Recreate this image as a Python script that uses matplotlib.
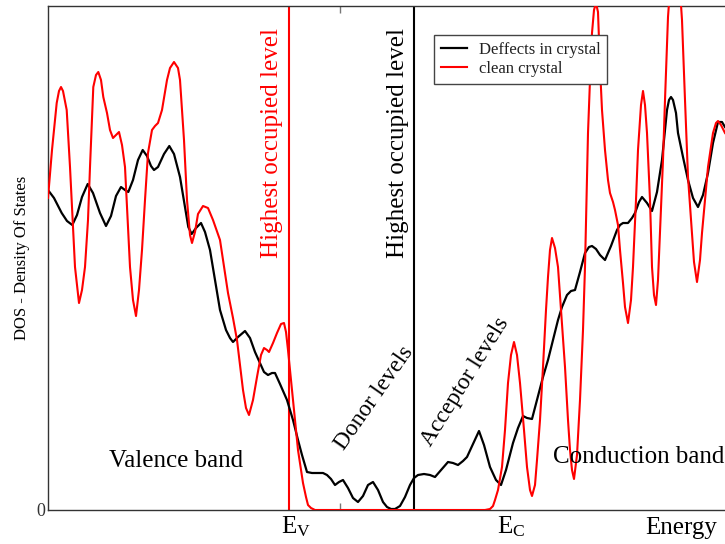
import matplotlib
matplotlib.use("Agg")
import matplotlib.pyplot as plt

plt.rcParams['font.family'] = ['Liberation Serif', 'DejaVu Serif']
plt.rcParams['mathtext.fontset'] = 'custom'
plt.rcParams['mathtext.rm'] = 'Liberation Serif'
plt.rcParams['mathtext.it'] = 'Liberation Serif:italic'

# ---- data (energy in arbitrary units, DOS in arbitrary units) ----
defect_energy = [0, 6, 13.7, 19, 24.3, 29, 34, 39.7, 45, 52, 58, 63, 68, 73, 77, 80.3, 85, 90, 94.7, 99,
                 103, 106, 110, 116, 121.3, 126, 132, 137, 140.3, 143.7, 148, 153, 157, 162, 167, 172, 178, 182, 185, 190,
                 197, 202, 207, 212, 216, 220, 224, 227, 232, 239, 245, 250, 254, 259, 264, 270, 275, 279, 283, 287,
                 291, 295, 300, 305, 310, 315, 320, 325, 330, 335, 339, 343, 347, 352, 357, 362, 366, 370, 376, 382,
                 387, 393, 400, 405, 410, 415, 419, 425, 431, 436, 442, 448, 453, 458, 465, 470, 475, 479, 484, 489,
                 495, 500, 505, 510, 514, 519, 523, 527, 532, 537, 541, 544, 548, 552, 557, 563, 569, 572, 575, 580,
                 584, 587, 591, 594, 599, 604, 609, 614, 619, 621, 623, 625, 628, 630, 635, 640, 645, 650, 655, 660,
                 665, 670, 674, 677]
defect_dos = [320, 312, 297, 289, 285, 295, 313, 326, 317, 297, 284, 294, 314, 323, 320, 318, 330, 350, 360, 354,
              344, 340, 343, 356, 364, 356, 333, 303, 283, 276, 282, 287, 278, 260, 230, 200, 180, 172, 168, 173,
              179, 172, 158, 147, 138, 135, 137, 137, 126, 110, 90, 70, 55, 38, 37, 37, 37, 35, 31, 25,
              28, 30, 22, 12, 8, 14, 25, 28, 20, 8, 3, 1, 1, 4, 13, 25, 32, 35, 36, 35,
              33, 40, 48, 47, 45, 49, 53, 66, 79, 65, 43, 30, 25, 40, 67, 82, 94, 92, 91, 110,
              133, 150, 170, 190, 203, 215, 219, 220, 238, 257, 263, 264, 261, 255, 250, 264, 280, 285, 287, 287,
              292, 297, 308, 313, 307, 299, 318, 350, 400, 410, 413, 410, 397, 377, 353, 330, 312, 303, 315, 337,
              367, 388, 388, 383]

clean_energy = [0, 4, 8.7, 11, 13, 15, 18.7, 22, 27, 31, 34, 37, 40, 42, 45.3, 48, 50.3, 53, 55.3, 59,
                62, 65, 68, 71, 74, 77, 82, 85, 88, 91, 94, 97, 100, 104, 107, 110, 114, 119, 122, 126,
                130, 132, 136, 139, 142, 144, 147, 150, 155, 160, 165, 172, 180, 185, 189, 195, 198, 201, 205, 209,
                213, 216, 219, 221, 225, 229, 233, 236, 238, 240, 242, 245, 248, 250, 253, 255, 258, 260, 263, 267,
                272,
                437, 442, 445, 447, 450, 454, 457, 460, 463, 466, 469, 472, 476, 479, 482, 484, 487, 489, 492,
                495, 498, 500, 502, 504, 507, 510, 513, 517, 520, 522, 524, 526, 529, 532, 535, 537, 540, 542, 544,
                546, 548, 550, 552, 554, 557, 560, 562, 565, 567, 570, 572, 575, 577, 580, 583, 585, 588, 590, 593,
                595, 597, 599, 602, 604, 606, 608, 610, 612, 615, 617, 620, 623, 627, 631, 634, 637, 640, 644, 646,
                649, 652, 654, 657, 660, 665, 668, 670, 673, 677]
clean_dos = [312, 360, 407, 419, 423, 419, 400, 343, 243, 207, 220, 243, 290, 343, 423, 435, 438, 430, 413, 397,
             380, 372, 375, 378, 365, 343, 243, 210, 194, 220, 260, 310, 357, 380, 384, 387, 400, 430, 442, 448,
             442, 430, 370, 310, 275, 267, 278, 296, 304, 302, 290, 270, 217, 192, 170, 120, 102, 95, 110, 133,
             155, 162, 160, 158, 167, 177, 186, 187, 178, 160, 140, 110, 80, 60, 40, 27, 13, 5, 2, 0,
             0,
             0, 1, 4, 10, 20, 43, 80, 127, 155, 168, 155, 127, 80, 43, 20, 14, 25, 50, 90, 143,
             200, 233, 260, 272, 262, 243, 200, 143, 90, 60, 40, 31, 55, 110, 180, 243, 377, 430, 477, 500,
             507, 498, 443, 400, 360, 330, 317, 308, 300, 285, 260, 227, 203, 187, 210, 243, 310, 360, 405, 419,
             405, 377, 310, 243, 215, 205, 230, 277, 350, 410, 493, 535, 550, 535, 490, 410, 333, 277, 248, 228,
             250, 277, 310, 343, 377, 387, 389, 385, 377]

valence_top = 241        # clean crystal highest occupied level
defect_level = 366       # defect crystal highest occupied level
tick_pos = [292]
series_labels = ["Deffects in crystal", "clean crystal"]

# ---- figure ----
W, H = 725, 544
fig = plt.figure(figsize=(W / 100, H / 100), dpi=100)
ax = fig.add_axes([48 / W, (H - 510) / H, (740 - 48) / W, (510 - 6) / H])

ax.plot(defect_energy, defect_dos, color='black', lw=1.6, label=series_labels[0], zorder=3)
ax.plot(clean_energy, clean_dos, color='#ff0000', lw=1.5, label=series_labels[1], zorder=3)

ax.axvline(valence_top, color='#ff0000', lw=1.5, zorder=2)
ax.axvline(defect_level, color='black', lw=1.5, zorder=2)

ax.set_xlim(0, 692)
ax.set_ylim(0, 504)

for s in ax.spines.values():
    s.set_color('#333333')
    s.set_linewidth(1.0)

ax.set_xticks(tick_pos)
ax.set_xticklabels([''])
ax.tick_params(axis='x', direction='in', length=5, color='#777777', top=True, bottom=True, width=1)
ax.set_yticks([0])
ax.set_yticklabels(['0'], fontsize=13, color='#333333')
ax.tick_params(axis='y', length=0, pad=2)

ax.set_ylabel('DOS - Density Of States', fontsize=12)
ax.yaxis.set_label_coords((30 - 48) / 692, 0.5)

# annotations
ax.text(224, 367, 'Highest occupied level', rotation=90, color='#ff0000', fontsize=18,
        ha='center', va='center')
ax.text(350, 367, 'Highest occupied level', rotation=90, color='black', fontsize=18,
        ha='center', va='center')
ax.text(128, 49, 'Valence band', fontsize=18, ha='center', va='center')
ax.text(591, 53, 'Conduction band', fontsize=18, ha='center', va='center')
ax.text(326, 112, 'Donor levels', fontsize=17, rotation=55, ha='center', va='center')
ax.text(417, 128, 'Acceptor levels', fontsize=17, rotation=58, ha='center', va='center')

ax.text(valence_top + 7, -4, r'E$_{\mathrm{V}}$', fontsize=18, ha='center', va='top', clip_on=False)
ax.text(463, -4, r'E$_{\mathrm{C}}$', fontsize=18, ha='center', va='top', clip_on=False)
ax.text(633, -7, 'Energy', fontsize=18, ha='center', va='top', clip_on=False)

leg = ax.legend(loc='upper left', bbox_to_anchor=((434 - 48) / 692, (510 - 35) / 504),
                frameon=True, fancybox=False, framealpha=1, edgecolor='#444444',
                fontsize=12, handlelength=1.6, handletextpad=0.7, borderpad=0.4,
                labelspacing=0.2, borderaxespad=0)
leg.get_frame().set_linewidth(1.0)
for t in leg.get_texts():
    t.set_color('#222222')

fig.savefig('out.png', dpi=100)
